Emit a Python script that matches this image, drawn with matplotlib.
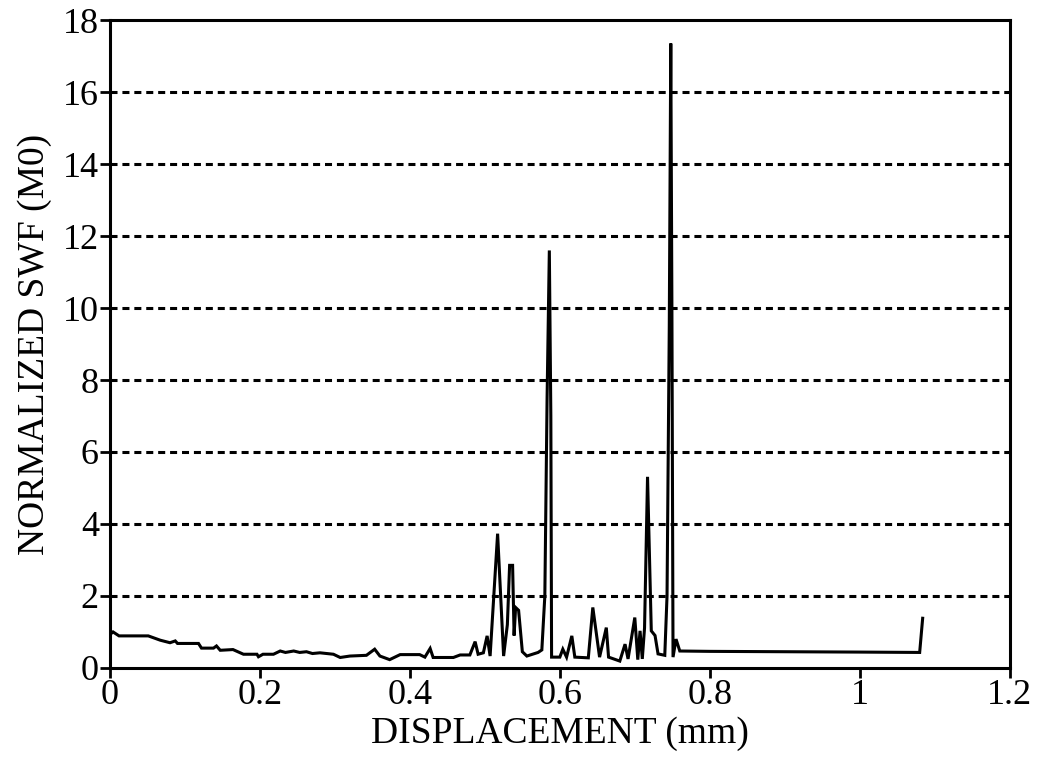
import matplotlib
matplotlib.use("Agg")
import matplotlib.pyplot as plt

displacement = [0.0, 0.004, 0.012, 0.051, 0.067, 0.080, 0.087, 0.090, 0.118, 0.122,
                0.138, 0.142, 0.147, 0.164, 0.178, 0.196, 0.198, 0.204, 0.218, 0.227,
                0.234, 0.245, 0.253, 0.262, 0.270, 0.280, 0.298, 0.307, 0.320, 0.342,
                0.353, 0.360, 0.373, 0.387, 0.413, 0.420, 0.427, 0.431, 0.458, 0.467,
                0.480, 0.487, 0.491, 0.498, 0.503, 0.507, 0.517, 0.525, 0.530, 0.533,
                0.537, 0.539, 0.541, 0.545, 0.550, 0.556, 0.571, 0.576, 0.580, 0.583,
                0.586, 0.588, 0.589, 0.600, 0.604, 0.609, 0.616, 0.620, 0.638, 0.644,
                0.653, 0.662, 0.665, 0.680, 0.687, 0.691, 0.700, 0.704, 0.707, 0.710,
                0.713, 0.717, 0.722, 0.727, 0.731, 0.740, 0.743, 0.746, 0.748, 0.7495,
                0.751, 0.755, 0.760, 0.800, 0.900, 1.000, 1.080, 1.084]
swf = [0.93, 1.00, 0.89, 0.89, 0.77, 0.70, 0.75, 0.68, 0.68, 0.55,
       0.55, 0.61, 0.49, 0.51, 0.38, 0.38, 0.31, 0.38, 0.38, 0.47,
       0.43, 0.47, 0.43, 0.45, 0.40, 0.42, 0.38, 0.29, 0.33, 0.35,
       0.52, 0.33, 0.23, 0.37, 0.37, 0.30, 0.54, 0.29, 0.29, 0.36,
       0.36, 0.73, 0.38, 0.42, 0.89, 0.33, 3.73, 0.33, 1.2, 2.85,
       2.85, 0.9, 1.68, 1.60, 0.45, 0.33, 0.43, 0.50, 2.0, 7.5,
       11.6, 7.0, 0.30, 0.30, 0.52, 0.30, 0.89, 0.30, 0.28, 1.68,
       0.30, 1.12, 0.30, 0.19, 0.66, 0.25, 1.40, 0.23, 1.03, 0.25,
       1.11, 5.31, 1.03, 0.90, 0.39, 0.35, 2.0, 9.5, 17.35, 10.0,
       0.30, 0.80, 0.47, 0.46, 0.45, 0.44, 0.43, 1.38]

x_ticks = [0, 0.2, 0.4, 0.6, 0.8, 1.0, 1.2]
x_tick_labels = ["0", "0.2", "0.4", "0.6", "0.8", "1", "1.2"]
y_ticks = [0, 2, 4, 6, 8, 10, 12, 14, 16, 18]

plt.rcParams['font.family'] = ['Liberation Serif', 'DejaVu Serif']

fig = plt.figure(figsize=(10.43, 7.59), dpi=100)
ax = fig.add_axes([0.1055, 0.12, 0.8625, 0.8535])

for yv in y_ticks[1:-1]:
    ax.axhline(yv, color='black', lw=2.2, linestyle=(0, (2.3, 1.6)), zorder=1)

ax.plot(displacement, swf, color='black', lw=2.2, solid_joinstyle='miter', zorder=3)

ax.set_xlim(0, 1.2)
ax.set_ylim(0, 18)
ax.set_xticks(x_ticks)
ax.set_xticklabels(x_tick_labels)
ax.set_yticks(y_ticks)
ax.tick_params(axis='both', direction='out', length=7, width=2, labelsize=26, pad=1,
               colors='black')
for s in ax.spines.values():
    s.set_linewidth(2.2)
    s.set_color('black')

ax.set_xlabel("DISPLACEMENT (mm)", fontsize=27, labelpad=3)
ax.set_ylabel("NORMALIZED SWF (M0)", fontsize=27, labelpad=8)

fig.savefig("out.png", dpi=100)
